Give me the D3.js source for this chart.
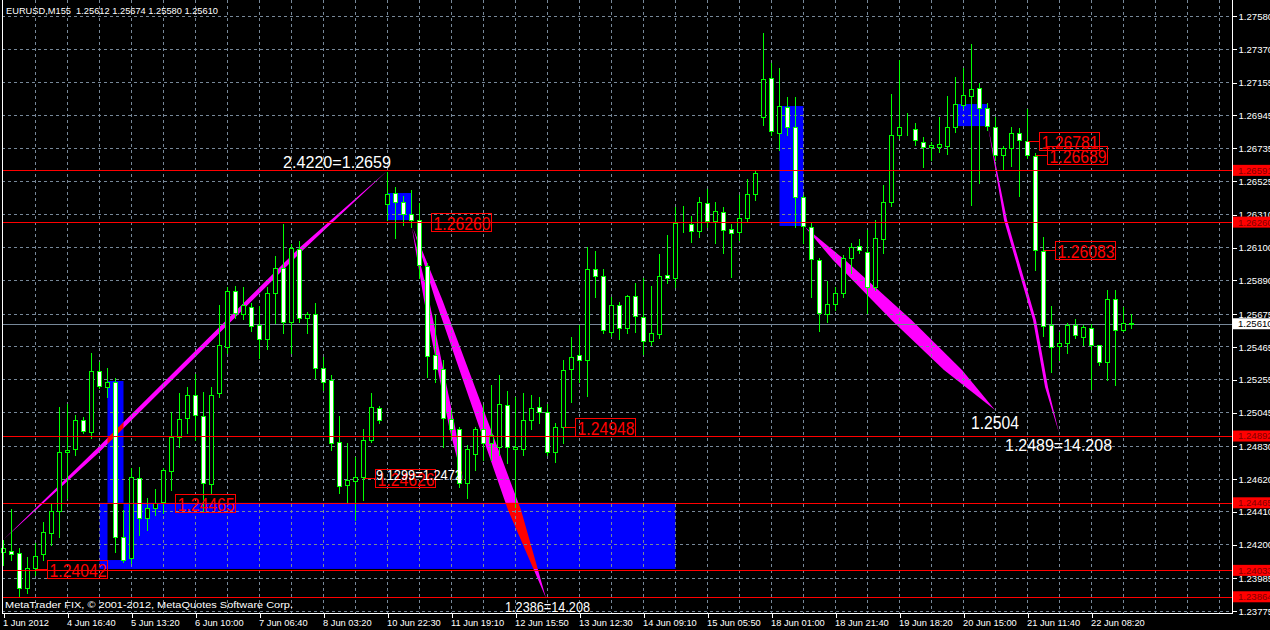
<!DOCTYPE html>
<html><head><meta charset="utf-8">
<script src="https://cdn.jsdelivr.net/npm/d3@7/dist/d3.min.js"></script>
<style>
html,body{margin:0;padding:0;background:#000;overflow:hidden;}
svg{display:block;}
text{font-family:"Liberation Sans",Arial,sans-serif;white-space:pre;}
</style></head><body>
<svg id="c" width="1270" height="630"></svg>
<script>
// ---------------- DATA ----------------
const chartTitle = "EURUSD,M155  1.25612 1.25674 1.25580 1.25610";
const copyright = "MetaTrader FIX, \u00A9 2001-2012, MetaQuotes Software Corp.";

const opens = [1.24150,1.24157,1.24144,1.23920,1.24048,1.24137,1.24272,1.24412,1.24790,1.24809,
1.24994,1.24917,1.25308,1.25205,1.25237,1.24246,1.24112,1.24623,1.24367,1.24431,
1.24470,1.24668,1.24885,1.25007,1.25154,1.25020,1.24585,1.25167,1.25461,1.25819,
1.25672,1.25717,1.25602,1.25512,1.25806,1.25966,1.25621,1.26088,1.25646,1.25672,
1.25327,1.25250,1.24853,1.24578,1.24604,1.24630,1.24866,1.25071,1.26375,1.26446,
1.26388,1.26312,1.26273,1.25979,1.25410,1.25320,1.25000,1.24936,1.24591,1.24777,
1.24936,1.24847,1.24821,1.25090,1.24809,1.24809,1.24994,1.25077,1.25045,1.24790,
1.24949,1.25320,1.25410,1.25378,1.25960,1.25915,1.25557,1.25730,1.25582,1.25787,
1.25653,1.25499,1.25544,1.25921,1.25902,1.26248,1.26248,1.26203,1.26382,1.26267,
1.26324,1.26216,1.26196,1.26286,1.26439,1.26932,1.27181,1.26830,1.26996,1.26868,
1.26420,1.26228,1.26017,1.25672,1.25736,1.25806,1.26030,1.26107,1.26069,1.25845,
1.26152,1.26388,1.26817,1.26861,1.26855,1.26772,1.26740,1.26740,1.26746,1.26868,
1.27008,1.27066,1.27117,1.26989,1.26868,1.26689,1.26733,1.26830,1.26778,1.26682,
1.26075,1.25602,1.25467,1.25487,1.25602,1.25525,1.25582,1.25474,1.25365,1.25768,
1.25570,1.25612];
const highs = [1.24227,1.24425,1.24176,1.24118,1.24208,1.24342,1.24463,1.25077,1.25096,1.25026,
1.25013,1.25423,1.25365,1.25327,1.25263,1.24419,1.24687,1.24694,1.24495,1.24553,
1.24687,1.25045,1.25167,1.25205,1.25288,1.25173,1.25205,1.25730,1.25845,1.25851,
1.25845,1.25742,1.25723,1.25845,1.26043,1.26248,1.26120,1.26139,1.25685,1.25742,
1.25397,1.25282,1.25020,1.24847,1.24758,1.24936,1.25167,1.25084,1.26580,1.26484,
1.26427,1.26465,1.26382,1.25998,1.25666,1.25378,1.25058,1.24949,1.24834,1.24949,
1.25090,1.25218,1.25282,1.25180,1.25141,1.25167,1.25154,1.25141,1.25096,1.24975,
1.25378,1.25525,1.25602,1.26100,1.26075,1.25960,1.25781,1.25749,1.25794,1.25870,
1.25902,1.25851,1.26056,1.26177,1.26356,1.26363,1.26299,1.26420,1.26471,1.26388,
1.26356,1.26248,1.26433,1.26535,1.26593,1.27469,1.27277,1.27245,1.27060,1.27060,
1.26433,1.26260,1.26030,1.25883,1.25845,1.26049,1.26126,1.26152,1.26209,1.26273,
1.26497,1.27079,1.27296,1.26957,1.26893,1.26804,1.26772,1.26932,1.27066,1.27188,
1.27245,1.27399,1.27149,1.27021,1.26932,1.26746,1.26868,1.26861,1.26983,1.26702,
1.26164,1.25723,1.25557,1.25614,1.25640,1.25602,1.25608,1.25474,1.25825,1.25825,
1.25717,1.25674];
const lows = [1.24067,1.24099,1.23862,1.23888,1.24003,1.24099,1.24195,1.24246,1.24495,1.24770,
1.24911,1.24879,1.25199,1.25141,1.24150,1.24086,1.24080,1.24259,1.24291,1.24387,
1.24399,1.24546,1.24821,1.24911,1.24866,1.24406,1.24527,1.25141,1.25423,1.25646,
1.25640,1.25563,1.25391,1.25448,1.25614,1.25550,1.25423,1.25621,1.25550,1.25263,
1.25186,1.24802,1.24527,1.24470,1.24355,1.24483,1.24853,1.24975,1.26273,1.26158,
1.26241,1.26228,1.25902,1.25269,1.25237,1.24821,1.24879,1.24566,1.24495,1.24674,
1.24738,1.24738,1.24770,1.24719,1.24438,1.24770,1.24936,1.24975,1.24770,1.24726,
1.24847,1.25109,1.25237,1.25148,1.25781,1.25550,1.25531,1.25512,1.25550,1.25557,
1.25416,1.25474,1.25518,1.25870,1.25845,1.26196,1.26132,1.26164,1.26228,1.26126,
1.26062,1.25909,1.26145,1.26260,1.26401,1.26881,1.26817,1.26721,1.26817,1.26228,
1.26126,1.25781,1.25563,1.25621,1.25698,1.25781,1.25934,1.26062,1.25678,1.25825,
1.26062,1.26363,1.26797,1.26817,1.26753,1.26612,1.26657,1.26708,1.26695,1.26836,
1.26989,1.26369,1.26510,1.26849,1.26657,1.26593,1.26618,1.26427,1.26670,1.25953,
1.25531,1.25301,1.25378,1.25423,1.25518,1.25474,1.25192,1.25346,1.25250,1.25218,
1.25563,1.25580];
const closes = [1.24176,1.24137,1.23920,1.24048,1.24124,1.24278,1.24412,1.24790,1.24802,1.24994,
1.24924,1.25308,1.25212,1.25237,1.24246,1.24099,1.24630,1.24367,1.24431,1.24463,
1.24674,1.24885,1.25000,1.25154,1.25026,1.24591,1.25154,1.25474,1.25819,1.25678,
1.25730,1.25595,1.25512,1.25806,1.25966,1.25621,1.26094,1.25646,1.25672,1.25327,
1.25237,1.24847,1.24572,1.24610,1.24630,1.24866,1.25077,1.24994,1.26439,1.26388,
1.26312,1.26273,1.25985,1.25403,1.25320,1.25007,1.24936,1.24591,1.24809,1.24936,
1.24847,1.24898,1.25096,1.24821,1.24821,1.24994,1.25071,1.25045,1.24790,1.24949,
1.25314,1.25397,1.25378,1.25960,1.25915,1.25570,1.25730,1.25582,1.25787,1.25659,
1.25499,1.25550,1.25915,1.25902,1.26254,1.26248,1.26203,1.26388,1.26267,1.26331,
1.26209,1.26190,1.26286,1.26439,1.26574,1.27175,1.26842,1.27002,1.26868,1.26420,
1.26235,1.26024,1.25678,1.25736,1.25806,1.26030,1.26100,1.26081,1.25845,1.26158,
1.26388,1.26817,1.26868,1.26861,1.26785,1.26740,1.26753,1.26759,1.26868,1.27015,
1.27072,1.27111,1.26989,1.26874,1.26689,1.26733,1.26830,1.26785,1.26689,1.26081,
1.25595,1.25461,1.25487,1.25602,1.25538,1.25589,1.25474,1.25365,1.25768,1.25570,
1.25614,1.25610];

const priceTicks = [1.27580,1.27370,1.27155,1.26945,1.26735,1.26525,1.26310,1.26100,1.25890,1.25675,
1.25465,1.25255,1.25045,1.24830,1.24620,1.24410,1.24200,1.23985,1.23775];
const timeLabels = ["1 Jun 2012","4 Jun 16:40","5 Jun 13:20","6 Jun 10:00","7 Jun 06:40","8 Jun 03:20",
"10 Jun 22:30","11 Jun 19:10","12 Jun 15:50","13 Jun 12:30","14 Jun 09:10","15 Jun 05:50",
"18 Jun 01:00","18 Jun 21:40","19 Jun 18:20","20 Jun 15:00","21 Jun 11:40","22 Jun 08:20"];
const barsPerTimeLabel = 8;

const hLinePrices = [1.26591,1.26260,1.24892,1.24465,1.24033,1.23864];
const currentPrice = 1.25610;

// rectangles: bar1, bar2, price1, price2
const rectBars1 = [13,12,48,97,119];
const rectBars2 = [15,84,51,100,123];
const rectPrice1 = [1.25244,1.24465,1.26446,1.27002,1.27015];
const rectPrice2 = [1.24099,1.24042,1.26273,1.26235,1.26874];

// magenta wedges: corner points (bar, price)
const wedges = [
  [[-0.06,1.24227],[12.06,1.24831],[37.06,1.26100],[47.94,1.26587],[37.06,1.26062],[12.06,1.24793]],
  [[51.06,1.26222],[53.19,1.25762],[56.53,1.24931],[57.44,1.24604],[55.78,1.24931],[52.56,1.25762]],
  [[51.19,1.26222],[54.86,1.25762],[59.54,1.25122],[64.69,1.24419],[67.81,1.23856],[63.06,1.24419],[58.29,1.25122],[53.99,1.25762]],
  [[100.19,1.26228],[105.19,1.26017],[113.5,1.25634],[119.81,1.25314],[123.94,1.25058],[117.56,1.25314],[111.0,1.25634],[103.69,1.26017]],
  [[123.06,1.26874],[125.44,1.26273],[129.06,1.25634],[130.56,1.25205],[131.94,1.24911],[130.19,1.25205],[128.69,1.25634],[125.06,1.26273]]
];

// boxed price labels: candle bar, price
const boxLabelBars = [4,20,45,52,70,128,129,130];
const boxLabelPrices = [1.24042,1.24465,1.24626,1.26260,1.24948,1.26781,1.26689,1.26083];

// free text objects: bar, price (baseline), text
const textBars = [34.94,62.69,46.56,120.94,125.19];
const textPrices = [1.26606,1.23767,1.24610,1.24937,1.24796];
const textStrings = ["2.4220=1.2659","1.2386=14.208","9.1299=1.2472","1.2504","1.2489=14.208"];

// ---------------- DRAW ----------------
const W = 1270, H = 630;
const left = 2, right = 1232, bottom = 613;
const svg = d3.select("#c");
svg.append("rect").attr("width",W).attr("height",H).attr("fill","#000");

const x = d3.scaleLinear().domain([0,1]).range([3.5,11.5]);
const y = d3.scaleLinear().domain([1.23775,1.27580]).range([610.7,15.7]);

const GRID = "#778899", GREEN = "#00ff00";

svg.append("defs").append("clipPath").attr("id","plot")
  .append("rect").attr("x",left).attr("y",0).attr("width",right-left).attr("height",bottom);

// background objects (blend like MT4)
const bg = svg.append("g").attr("clip-path","url(#plot)").style("isolation","isolate");
bg.append("rect").attr("x",left).attr("y",0).attr("width",right-left).attr("height",bottom).attr("fill","#000");
rectBars1.forEach((b,i)=>{
  const x1 = x(b), x2 = x(rectBars2[i]);
  const y1 = y(rectPrice1[i]), y2 = y(rectPrice2[i]);
  bg.append("rect").attr("x",Math.min(x1,x2)).attr("y",Math.min(y1,y2))
    .attr("width",Math.abs(x2-x1)).attr("height",Math.abs(y2-y1))
    .attr("fill","#0000ff").style("mix-blend-mode","difference");
});
const wedgeLine = d3.line().x(d=>x(d[0])).y(d=>y(d[1]));
wedges.forEach(t=>{
  bg.append("path").attr("d",wedgeLine(t)+"Z").attr("fill","#ff00ff")
    .style("mix-blend-mode","difference");
});

// grid
const grid = svg.append("g").attr("stroke",GRID).attr("stroke-dasharray","3,3").attr("shape-rendering","crispEdges");
priceTicks.forEach(p=>{
  const yy = Math.round(y(p))+0.5;
  grid.append("line").attr("x1",left).attr("x2",right).attr("y1",yy).attr("y2",yy);
});
d3.range(4, 153, 4).forEach(b=>{
  grid.append("line").attr("x1",x(b)).attr("x2",x(b)).attr("y1",0).attr("y2",bottom);
});

// current price line
const cpY = Math.round(y(currentPrice))+0.5;
svg.append("line").attr("x1",left).attr("x2",right).attr("y1",cpY).attr("y2",cpY)
  .attr("stroke",GRID).attr("shape-rendering","crispEdges");

// candles
const candles = svg.append("g").attr("shape-rendering","crispEdges");
opens.forEach((o,i)=>{
  const c = closes[i], h = highs[i], l = lows[i];
  const cx = x(i);
  candles.append("line").attr("x1",cx).attr("x2",cx)
    .attr("y1",Math.round(y(h))).attr("y2",Math.round(y(l))+1).attr("stroke",GREEN);
  const yt = Math.round(y(Math.max(o,c)))+0.5, yb = Math.round(y(Math.min(o,c)))+0.5;
  candles.append("rect").attr("x",cx-2).attr("y",yt).attr("width",4).attr("height",Math.max(0,yb-yt))
    .attr("fill", c < o ? "#fff" : "#000").attr("stroke",GREEN);
});

// horizontal red lines
hLinePrices.forEach(p=>{
  const yy = Math.round(y(p))+0.5;
  svg.append("line").attr("x1",left).attr("x2",right).attr("y1",yy).attr("y2",yy)
    .attr("stroke","#ff0000").attr("shape-rendering","crispEdges");
});

// boxed price labels
boxLabelBars.forEach((b,i)=>{
  const p = boxLabelPrices[i];
  const cx = x(b), yy = Math.round(y(p))+0.5;
  const bx = Math.round(cx + 11)+0.5;
  svg.append("line").attr("x1",cx).attr("x2",bx).attr("y1",yy).attr("y2",yy)
    .attr("stroke","#ff0000").attr("shape-rendering","crispEdges");
  svg.append("rect").attr("x",bx).attr("y",yy-9).attr("width",60).attr("height",18)
    .attr("fill","none").attr("stroke","#ff0000").attr("shape-rendering","crispEdges");
  svg.append("text").attr("x",bx+2).attr("y",yy+7.5).attr("fill","#ff0000")
    .attr("font-size",17.5).attr("textLength",57).attr("lengthAdjust","spacingAndGlyphs")
    .text(d3.format(".5f")(p));
});

// free text
const textSizes = [17,15,15,17.5,17];
const textWidths = [108,85,86,48,107];
textStrings.forEach((s,i)=>{
  svg.append("text").attr("x",x(textBars[i])).attr("y",y(textPrices[i])).attr("fill","#fff")
    .attr("font-size",textSizes[i]).attr("textLength",textWidths[i]).attr("lengthAdjust","spacingAndGlyphs")
    .text(s);
});

// frame
svg.append("g").attr("stroke","#fff").attr("shape-rendering","crispEdges").call(g=>{
  g.append("line").attr("x1",left+0.5).attr("x2",left+0.5).attr("y1",0).attr("y2",bottom+0.5);
  g.append("line").attr("x1",right+0.5).attr("x2",right+0.5).attr("y1",0).attr("y2",bottom+0.5);
  g.append("line").attr("x1",left).attr("x2",right+1).attr("y1",bottom+0.5).attr("y2",bottom+0.5);
});

// right price axis
const yAxis = d3.axisRight(y).tickValues(priceTicks).tickSize(4).tickPadding(2).tickFormat(d3.format(".5f"));
const ya = svg.append("g").attr("transform",`translate(${right+0.5},0.5)`).call(yAxis);
ya.select(".domain").remove();
ya.selectAll("line").attr("stroke","#fff").attr("shape-rendering","crispEdges");
ya.selectAll("text").attr("fill","#fff").attr("font-size",9.6).attr("font-family","Liberation Sans");

// axis price tags
function axisTag(p, bgc, fg){
  const yy = y(p);
  svg.append("rect").attr("x",right+1).attr("y",yy-5.5).attr("width",W-right).attr("height",11).attr("fill",bgc);
  svg.append("text").attr("x",right+6).attr("y",yy+3.4).attr("fill",fg).attr("font-size",9.6).text(d3.format(".5f")(p));
}
hLinePrices.forEach(p=>axisTag(p,"#ff0000","#800000"));
axisTag(currentPrice,"#ffffff","#000000");

// bottom time axis
const tickBars = timeLabels.map((_,i)=>i*barsPerTimeLabel);
const xAxis = d3.axisBottom(x).tickValues(tickBars).tickSize(4).tickPadding(2).tickFormat((d,i)=>timeLabels[i]);
const xa = svg.append("g").attr("transform",`translate(0,${bottom+0.5})`).call(xAxis);
xa.select(".domain").remove();
xa.selectAll("line").attr("stroke","#fff").attr("shape-rendering","crispEdges");
xa.selectAll("text").attr("fill","#fff").attr("font-size",9.3).attr("text-anchor","start").attr("dx",-1);

// title and copyright
svg.append("text").attr("x",6).attr("y",14).attr("fill","#fff").attr("font-size",9.3)
  .attr("textLength",212).attr("lengthAdjust","spacingAndGlyphs").text(chartTitle);
svg.append("text").attr("x",5).attr("y",608).attr("fill","#fff").attr("font-size",9.3)
  .attr("textLength",288).attr("lengthAdjust","spacingAndGlyphs").text(copyright);
</script>
</body></html>
